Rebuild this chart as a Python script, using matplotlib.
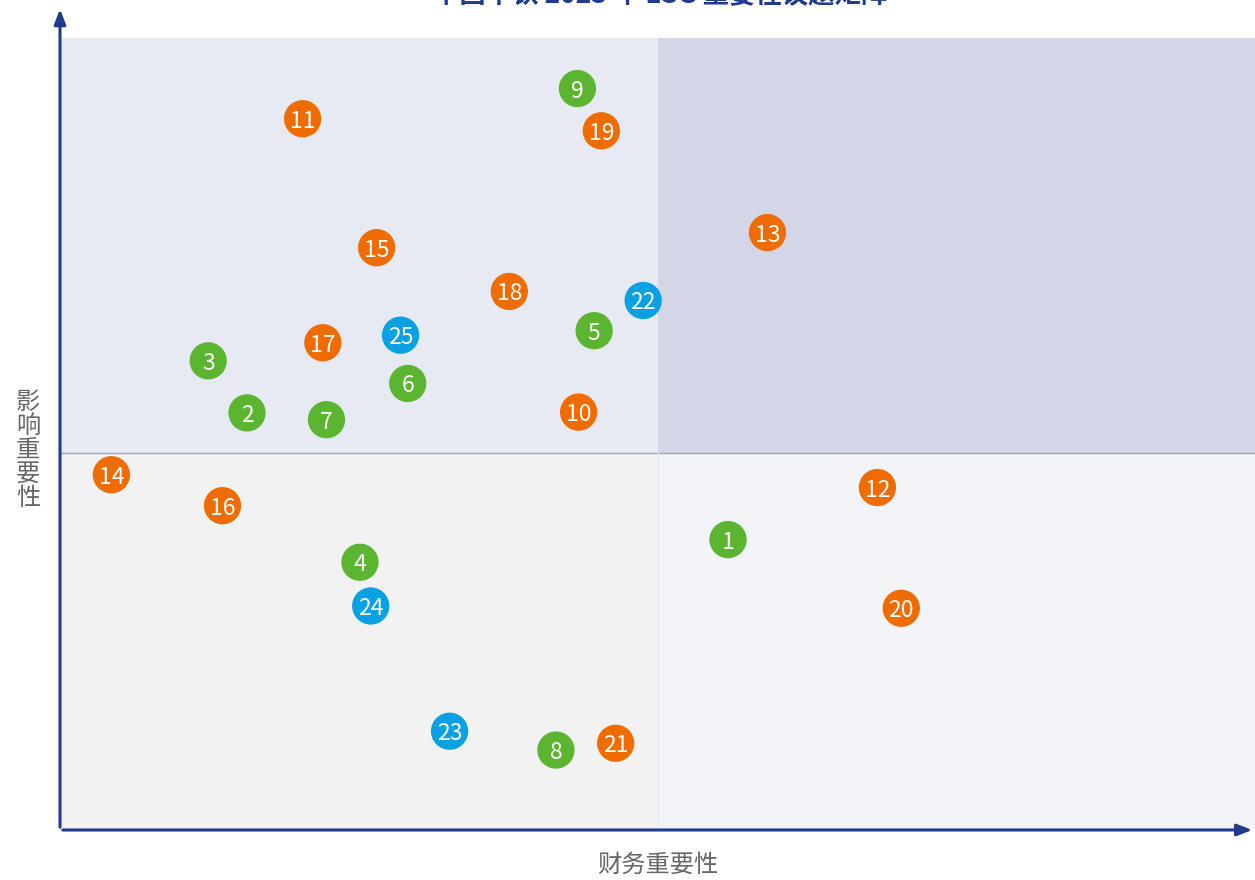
import matplotlib
matplotlib.use("Agg")
import matplotlib.pyplot as plt

plt.rcParams['font.family'] = ['Noto Sans CJK SC', 'DejaVu Sans']

ids = list(range(1, 26))
x_fin = [5.59, 1.565, 1.24, 2.51, 4.47, 2.91, 2.23, 4.15, 4.33, 4.34,
         2.03, 6.84, 5.92, 0.43, 2.65, 1.36, 2.20, 3.76, 4.53, 7.04,
         4.65, 4.88, 3.26, 2.60, 2.85]
y_imp = [3.85, 5.53, 6.22, 3.55, 6.62, 5.92, 5.44, 1.06, 9.83, 5.54,
         9.43, 4.54, 7.92, 4.71, 7.72, 4.30, 6.46, 7.14, 9.27, 2.94,
         1.15, 7.02, 1.31, 2.97, 6.56]
groups = ['E'] * 9 + ['S'] * 12 + ['G'] * 4
group_colors = {'E': '#5cb531', 'S': '#ee6c00', 'G': '#0aa1e2'}

title = '中国中铁 2023 年 ESG 重要性议题矩阵'
xlabel = '财务重要性'
ylabel = '影响重要性'

W, H = 1255, 880
fig = plt.figure(figsize=(W / 100, H / 100), dpi=100)
left, right, bottom, top = 60, 1255, 830, 38
ax = fig.add_axes([left / W, (H - bottom) / H, (right - left) / W, (bottom - top) / H])
xmax, ymax, mid_x, mid_y = 10.0, 10.5, 5.0, 5.0
ax.set_xlim(0, xmax)
ax.set_ylim(0, ymax)

# quadrant backgrounds
ax.fill_between([0, mid_x], mid_y, ymax, color='#e8eaf3', lw=0, zorder=0)
ax.fill_between([mid_x, xmax], mid_y, ymax, color='#d3d6e7', lw=0, zorder=0)
ax.fill_between([0, mid_x], 0, mid_y, color='#f2f2f3', lw=0, zorder=0)
ax.fill_between([mid_x, xmax], 0, mid_y, color='#f3f4f8', lw=0, zorder=0)
ax.plot([0, xmax], [mid_y, mid_y], color='#9ea3ad', lw=1, zorder=1)
ax.plot([mid_x, mid_x], [0, mid_y], color='#e6e8ef', lw=1, zorder=1)

for sp in ax.spines.values():
    sp.set_visible(False)
ax.set_xticks([])
ax.set_yticks([])

axis_col = '#1f3a8f'
ax.annotate('', xy=(0, 1.04), xycoords='axes fraction', xytext=(0, 0),
            arrowprops=dict(arrowstyle='-|>,head_length=0.9,head_width=0.35', color=axis_col, lw=2.2),
            annotation_clip=False)
ax.annotate('', xy=(1.0, 0), xycoords='axes fraction', xytext=(0, 0),
            arrowprops=dict(arrowstyle='-|>,head_length=0.9,head_width=0.35', color=axis_col, lw=2.2),
            annotation_clip=False)

cols = [group_colors[g] for g in groups]
ax.scatter(x_fin, y_imp, s=720, c=cols, edgecolors='none', zorder=3)
for i, xv, yv in zip(ids, x_fin, y_imp):
    ax.text(xv, yv, str(i), ha='center', va='center_baseline', color='white',
            fontsize=16.5, zorder=4)

fig.text(658 / W, 1 - 865 / H, xlabel, ha='center', va='center', fontsize=17.5, color='#666666')
fig.text(28 / W, 1 - 450 / H, '\n'.join(ylabel), ha='center', va='center', fontsize=17.5,
         color='#666666', linespacing=0.9)
fig.text(660 / W, 1 - 3 / H, title, ha='center', va='baseline', fontsize=19, color='#1f3a8f',
         fontweight='bold')

fig.savefig('out.png', dpi=100)
